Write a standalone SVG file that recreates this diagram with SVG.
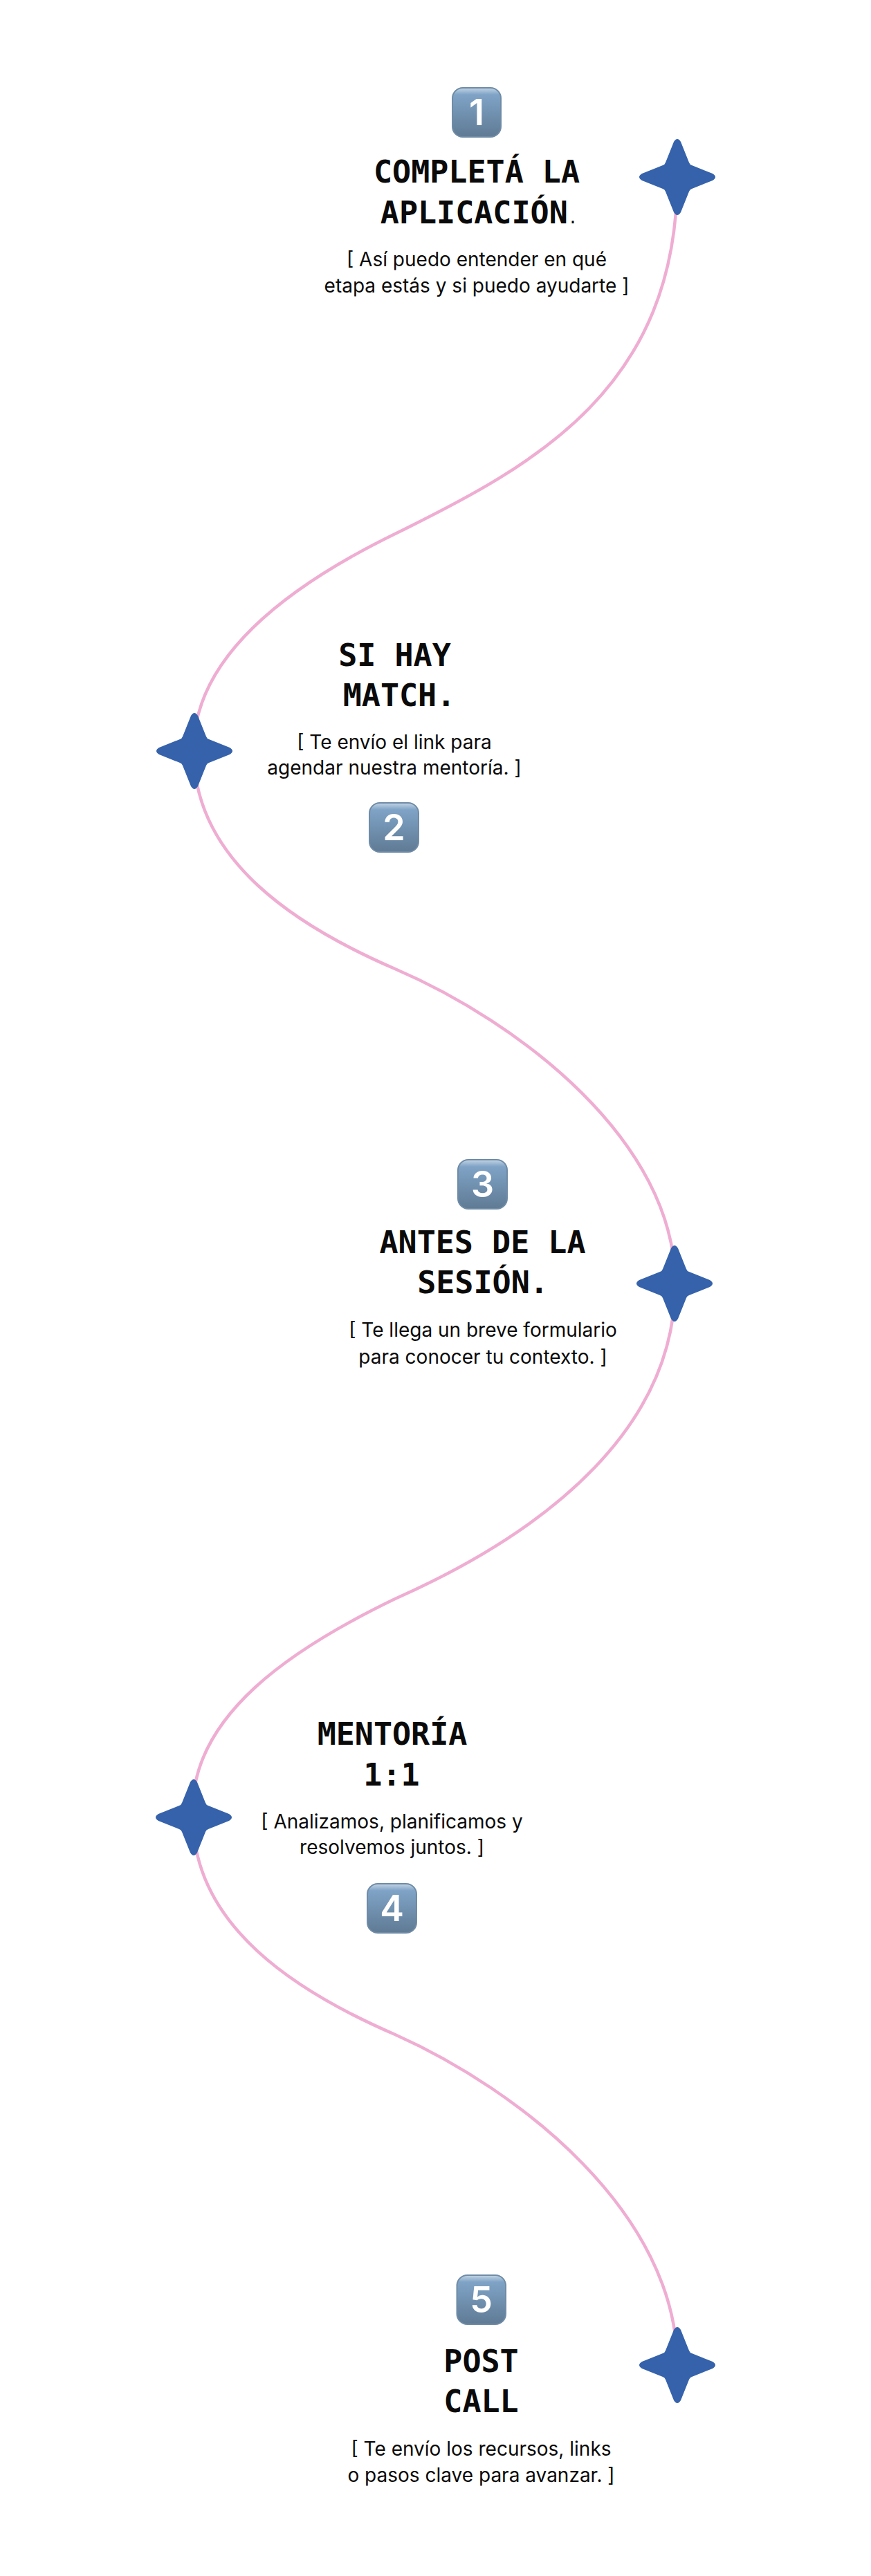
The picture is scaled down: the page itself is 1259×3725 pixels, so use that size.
<svg xmlns="http://www.w3.org/2000/svg" width="1259" height="3725" viewBox="0 0 1259 3725">
<style>
.t{font-family:"DejaVu Sans Mono","Liberation Mono",monospace;font-weight:700;font-size:45px;fill:#0a0a0a;text-anchor:middle}
.b{font-family:"Inter","Noto Sans",sans-serif;font-size:28px;fill:#0a0a0a;text-anchor:middle}
.n{font-family:"Inter","Liberation Sans",sans-serif;font-weight:600;font-size:52px;fill:#fff;text-anchor:middle}
.k{fill:url(#kg);stroke:#6f8ba6;stroke-width:2}
.s{fill:#3562ab}
.c{fill:none;stroke:#efadd2;stroke-width:4.5}
</style>
<defs>
<linearGradient id="kg" x1="0" y1="0" x2="0" y2="1"><stop offset="0" stop-color="#c3d5e5"/><stop offset=".14" stop-color="#7fa3c6"/><stop offset="1" stop-color="#5f7a94"/></linearGradient>
<path id="star" d="M-5,-51 Q0,-59 5,-51 L17,-21 Q18,-18 21,-17 L51,-5 Q59,0 51,5 L21,17 Q18,18 17,21 L5,51 Q0,59 -5,51 L-17,21 Q-18,18 -21,17 L-51,5 Q-59,0 -51,-5 L-21,-17 Q-18,-18 -17,-21 Z"/>
</defs>
<rect width="1259" height="3725" fill="#fff"/>
<g id="connectors">
<path class="c" d="M979,256 C979,560 775,672 571,772 C440,836 278,940 280,1086 C280,1245 430,1340 571,1401 C750,1478 976,1650 976,1856 C976,2060 800,2210 571,2312 C430,2380 270,2480 279,2628 C279,2786 430,2881 571,2942 C750,3022 979,3200 979,3420"/>
</g>
<g id="node1">
<use href="#star" class="s" x="979" y="256"/>
<rect class="k" x="654" y="127" width="70" height="71" rx="15"/><text class="n" x="689" y="181">1</text>
<text class="t" x="689" y="264">COMPLETÁ LA</text><text class="t" x="692.5" y="323">APLICACIÓN<tspan font-size="24" font-weight="400">.</tspan></text>
<text class="b" x="689" y="385">[ Así puedo entender en qué</text><text class="b" x="689" y="423">etapa estás y si puedo ayudarte ]</text>
</g>
<g id="node2">
<use href="#star" class="s" x="281" y="1086"/>
<rect class="k" x="534" y="1161" width="71" height="71" rx="15"/><text class="n" x="569.5" y="1215">2</text>
<text class="t" x="570.5" y="963">SI HAY</text><text class="t" x="577" y="1021">MATCH.</text>
<text class="b" x="570" y="1083">[ Te envío el link para</text><text class="b" x="570" y="1120">agendar nuestra mentoría. ]</text>
</g>
<g id="node3">
<use href="#star" class="s" x="975" y="1856"/>
<rect class="k" x="662" y="1677" width="71" height="71" rx="15"/><text class="n" x="697.5" y="1731">3</text>
<text class="t" x="697.5" y="1812">ANTES DE LA</text><text class="t" x="698" y="1870">SESIÓN.</text>
<text class="b" x="698" y="1933">[ Te llega un breve formulario</text><text class="b" x="698" y="1972">para conocer tu contexto. ]</text>
</g>
<g id="node4">
<use href="#star" class="s" x="280" y="2628"/>
<rect class="k" x="531" y="2724" width="71" height="71" rx="15"/><text class="n" x="566.5" y="2778">4</text>
<text class="t" x="567" y="2523">MENTORÍA</text><text class="t" x="566" y="2582">1:1</text>
<text class="b" x="566.5" y="2644">[ Analizamos, planificamos y</text><text class="b" x="566.5" y="2681">resolvemos juntos. ]</text>
</g>
<g id="node5">
<use href="#star" class="s" x="979" y="3420"/>
<rect class="k" x="660.5" y="3290" width="70.5" height="71" rx="15"/><text class="n" x="695.5" y="3344">5</text>
<text class="t" x="695.5" y="3430">POST</text><text class="t" x="695.5" y="3488">CALL</text>
<text class="b" x="695.5" y="3551">[ Te envío los recursos, links</text><text class="b" x="695.5" y="3589">o pasos clave para avanzar. ]</text>
</g>
</svg>
